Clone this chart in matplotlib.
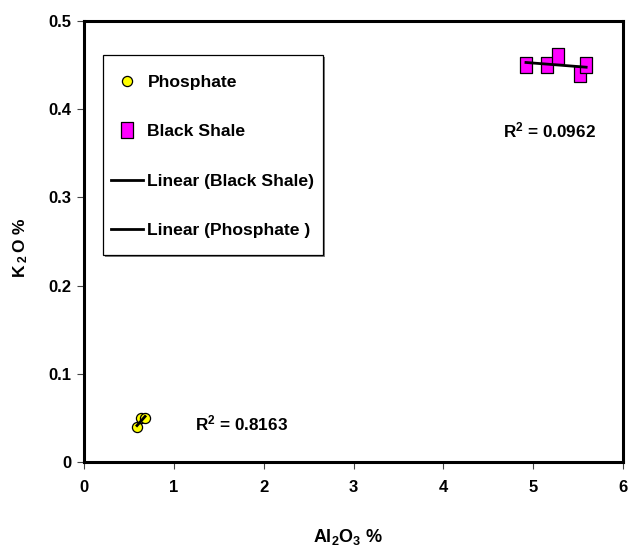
import numpy as np
import matplotlib
matplotlib.use("Agg")
import matplotlib.pyplot as plt
from matplotlib.lines import Line2D
from matplotlib.patches import Rectangle
from matplotlib.path import Path

# ---- data ----
phos_al2o3 = [0.59, 0.64, 0.68]
phos_k2o = [0.04, 0.05, 0.05]
shale_al2o3 = [4.92, 5.15, 5.28, 5.52, 5.59]
shale_k2o = [0.45, 0.45, 0.46, 0.44, 0.45]
r2_phos = "0.8163"
r2_shale = "0.0962"
x_ticks = [0, 1, 2, 3, 4, 5, 6]
y_ticks = [0, 0.1, 0.2, 0.3, 0.4, 0.5]
y_tick_labels = ["0", "0.1", "0.2", "0.3", "0.4", "0.5"]

plt.rcParams['font.family'] = ['Liberation Sans', 'DejaVu Sans']
plt.rcParams['font.weight'] = 'bold'
plt.rcParams['mathtext.fontset'] = 'custom'
plt.rcParams['mathtext.rm'] = 'Liberation Sans:bold'
plt.rcParams['mathtext.it'] = 'Liberation Sans:bold'
plt.rcParams['mathtext.bf'] = 'Liberation Sans:bold'
plt.rcParams['mathtext.default'] = 'rm'

W, H = 630, 547
fig = plt.figure(figsize=(W / 100, H / 100), dpi=100)
L, R, T, B = 84, 623, 21, 462
ax = fig.add_axes([L / W, 1 - B / H, (R - L) / W, (B - T) / H])

rect_marker = Path([(-0.42, -0.5), (0.42, -0.5), (0.42, 0.5), (-0.42, 0.5), (-0.42, -0.5)],
                   [Path.MOVETO, Path.LINETO, Path.LINETO, Path.LINETO, Path.CLOSEPOLY])

ax.plot(phos_al2o3, phos_k2o, linestyle='none', marker='o', markersize=7.3,
        markerfacecolor='#FFFF00', markeredgecolor='black', markeredgewidth=0.9, zorder=3)
ax.plot(shale_al2o3, shale_k2o, linestyle='none', marker=rect_marker, markersize=11,
        markerfacecolor='#FF00FF', markeredgecolor='black', markeredgewidth=0.9, zorder=3)

for xs, ys in ((shale_al2o3, shale_k2o), (phos_al2o3, phos_k2o)):
    xs = np.array(xs); ys = np.array(ys)
    m, c = np.polyfit(xs, ys, 1)
    xx = np.array([xs.min(), xs.max()])
    ax.plot(xx, m * xx + c, color='black', linewidth=2.0, zorder=4)

ax.text(4.664, 0.3764, "R$^2$ = " + r2_shale, fontsize=12.3, fontweight='bold',
        ha='left', va='center')
ax.text(1.236, 0.0442, "R$^2$ = " + r2_phos, fontsize=12.3, fontweight='bold',
        ha='left', va='center')

ax.set_xlim(0, 6)
ax.set_ylim(0, 0.5)
ax.set_xticks(x_ticks)
ax.set_xticklabels([str(v) for v in x_ticks])
ax.set_yticks(y_ticks)
ax.set_yticklabels(y_tick_labels)
ax.tick_params(axis='both', direction='out', length=5, width=0.8, color='#444444',
               labelsize=12)
ax.tick_params(axis='x', pad=8)
ax.tick_params(axis='y', pad=4)
for lab in ax.get_xticklabels() + ax.get_yticklabels():
    lab.set_fontweight('bold')
for s in ax.spines.values():
    s.set_linewidth(2.2)
    s.set_color('black')

ax.set_xlabel("Al$_2$O$_3$ %", fontsize=13, fontweight='bold')
ax.set_ylabel(r"K$\,_2\,$O %", fontsize=12.5, fontweight='bold')
ax.xaxis.set_label_coords(0.49, -0.148)
ax.yaxis.set_label_coords(-0.10, 0.485)

# legend frame with shadow
bx0, by0, bx1, by1 = 103, 55, 323, 255
fig.patches.append(Rectangle(((bx0 + 2) / W, 1 - (by1 + 2) / H), (bx1 - bx0) / W, (by1 - by0) / H,
                             transform=fig.transFigure, facecolor='#808080', edgecolor='none',
                             zorder=5))
fig.patches.append(Rectangle((bx0 / W, 1 - by1 / H), (bx1 - bx0) / W, (by1 - by0) / H,
                             transform=fig.transFigure, facecolor='white', edgecolor='black',
                             linewidth=0.9, zorder=6))

handles = [
    Line2D([], [], linestyle='none', marker='o', markersize=7.3, markerfacecolor='#FFFF00',
           markeredgecolor='black', markeredgewidth=0.9),
    Line2D([], [], linestyle='none', marker=rect_marker, markersize=11, markerfacecolor='#FF00FF',
           markeredgecolor='black', markeredgewidth=0.9),
    Line2D([], [], color='black', linewidth=2.0),
    Line2D([], [], color='black', linewidth=2.0),
]
labels = ["Phosphate", "Black Shale", "Linear (Black Shale)", "Linear (Phosphate )"]
leg = fig.legend(handles, labels, loc='upper left', bbox_to_anchor=(111 / W, 1 - 75 / H),
                 frameon=False, borderpad=0, borderaxespad=0, handlelength=1.83,
                 handletextpad=0.25, labelspacing=1.94, prop={'size': 12.6, 'weight': 'bold'})
leg.set_zorder(7)

fig.savefig("out.png", dpi=100)
